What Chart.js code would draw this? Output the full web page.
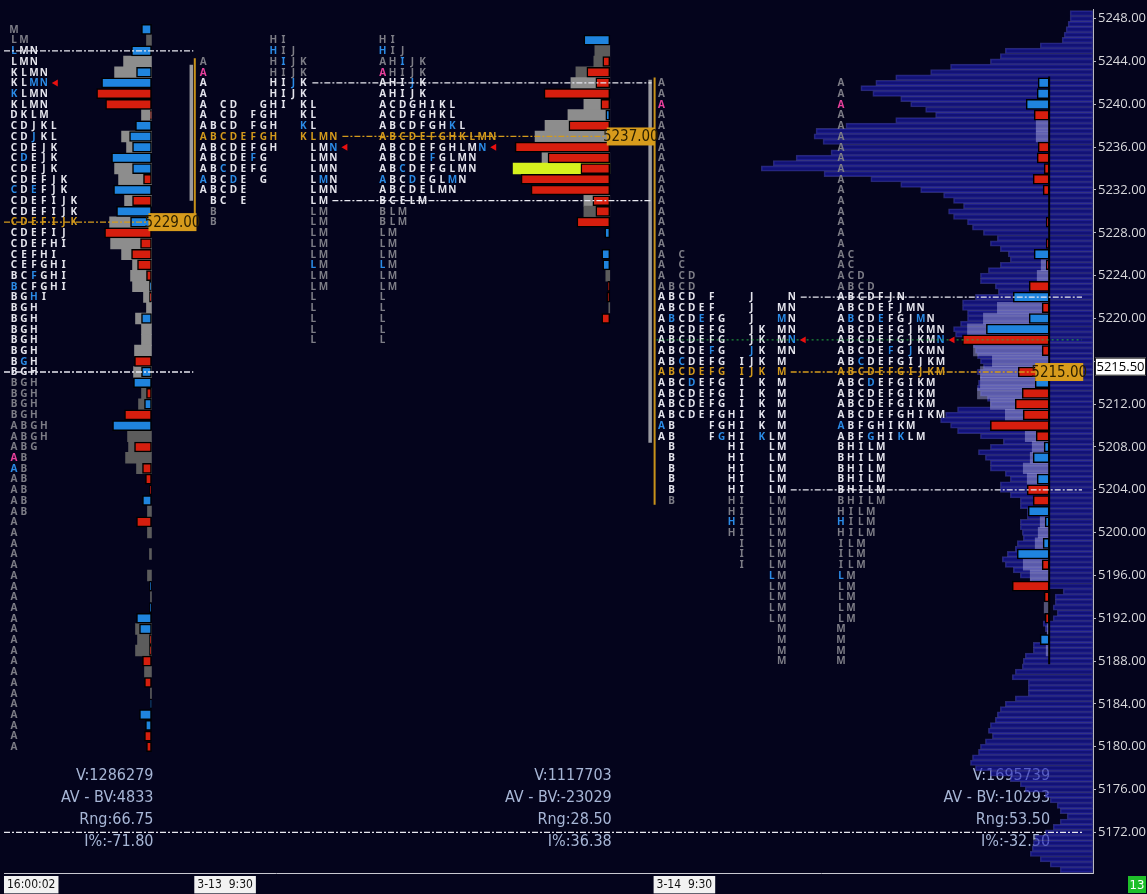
<!DOCTYPE html>
<html>
<head>
<meta charset="utf-8">
<script src="https://cdn.jsdelivr.net/npm/chart.js@4.4.1/dist/chart.umd.min.js"></script>
<style>
  html, body { margin: 0; padding: 0; background: #04041c; }
  #wrap { width: 1147px; height: 894px; }
</style>
</head>
<body>
<div id="wrap"><canvas id="mp" width="1147" height="894"></canvas></div>
<script>
// ---------------- data ----------------
// session 1 (16:00:02), one row per point, from the top price down
const s1Top = 5247;
const s1Tpo = ['M','LM','LMN','LMN','KLMN','KLMN','KLMN','KLMN','DKLM','CDJKL',
  'CDJKL','CDEJK','CDEJK','CDEJK','CDEFJK','CDEFJK','CDEFIJK','CDEFIJK','CDEFIJK','CDEFIJ',
  'CDEFHI','CEFHI','CEFGHI','BCFGHI','BCFGHI','BGHI','BGH','BGH','BGH','BGH',
  'BGH','BGH','BGH','BGH','BGH','BGH','BGH','ABGH','ABGH','ABG',
  'AB','AB','AB','AB','AB','AB','A','A','A','A',
  'A','A','A','A','A','A','A','A','A','A',
  'A','A','A','A','A','A','A','A'];
const s1Vol = [0,5,0,28,37,0,0,0,10,0, 30,25,0,37,33,0,27,0,42,0, 41,30,19,21,19,8,5,16,10,10,
  17,0,18,0,10,13,0,0,24,23, 26,15,0,0,0,4,0,4,0,2, 0,4,0,1,0,0,16,14,16,0, 7,0,1,0,0,0,0,0];
const s1Delta = [10,0,20,0,15,50,-55,-46,-1,16, 22,19,40,19,-8,38,-19,35,21,-47, -11,-20,-14,-5,2,-2,0,10,0,0,
  0,-17,10,18,-5,7,-27,39,0,-17, 0,-9,-6,-2,9,0,-15,0,0,0, 0,0,2,0,2,15,12,-2,-2,-9, 0,-7,0,1,12,6,-7,-5];
const s1Blue = [['L',5245],['M',5242],['N',5242],['K',5241],['J',5237],['D',5235],['C',5232],['E',5232],
  ['F',5224],['B',5223],['H',5222],['G',5216],['A',5206]];
const s1Pink = [['A',5207]];

// session 2 (3-13 9:30)
const s2Top = 5246;
const s2Tpo = ['HI','HIJ','AHIJK','AHIJK','AHIJK','AHIJK','ACDGHIKL','ACDFGHKL','ABCDFGHKL','ABCDEFGHKLMN',
  'ABCDEFGHLMN','ABCDEFGLMN','ABCDEFGLMN','ABCDEGLMN','ABCDELMN','BCELM','BLM','BLM','LM','LM',
  'LM','LM','LM','LM','L','L','L','L','L'];
const s2Vol = [0,15,16,34,39,0,26,42,65,75, 0,68,97,0,0,26,26,0,0,0, 0,0,4,0,0,1,0,0,0];
const s2Delta = [26,0,-7,-23,-14,-66,-9,4,-41,0, -95,-62,-29,-89,-79,-17,-14,-33,5,0, 8,7,0,-2,-3,0,-8,0,0];
const s2Blue = [['H',5245],['I',5244],['J',5242],['K',5238],['N',5236],['F',5235],['C',5234],
  ['A',5233],['D',5233],['M',5233],['L',5225]];
const s2Pink = [['A',5243]];
const s2Highlight = [5234];

// session 3 (3-14 9:30)
const s3Top = 5242;
const s3Tpo = ['A','A','A','A','A','A','A','A','A','A',
  'A','A','A','A','A','A','AC','AC','ACD','ABCD',
  'ABCDFJN','ABCDEFJMN','ABCDEFGJMN','ABCDEFGJKMN','ABCDEFGJKMN','ABCDEFGJKMN','ABCDEFGIJKM','ABCDEFGIJKM','ABCDEFGIKM','ABCDEFGIKM',
  'ABCDEFGIKM','ABCDEFGHIKM','ABFGHIKM','ABFGHIKLM','BHILM','BHILM','BHILM','BHILM','BHILM','BHILM',
  'HILM','HILM','HILM','ILM','ILM','ILM','LM','LM','LM','LM',
  'LM','M','M','M','M'];
const s3Vol = [0,0,0,0,13,13,0,0,0,0, 0,0,0,0,0,0,0,8,12,0, 0,52,66,82,0,76,57,69,69,72,
  59,44,0,24,17,19,26,22,0,0, 0,9,11,14,0,26,19,0,0,5, 0,2,0,3,0];
const s3Delta = [11,12,23,-15,0,0,-11,-12,-5,-16, -6,0,0,-3,0,-3,15,-3,0,-20, 36,-7,20,63,-87,-7,0,-31,14,-27,
  -34,-26,-59,-13,5,16,0,12,-22,-16, 21,4,0,6,32,-7,0,-37,-5,0, -4,0,9,0,0];
const s3Blue = [['B',5220],['E',5220],['M',5220],['N',5218],['F',5217],['J',5217],['C',5216],['D',5214],
  ['A',5210],['G',5209],['K',5209],['H',5201],['L',5196]];
const s3Pink = [['A',5240]];

// per-session summary
const sessionLabels = ['16:00:02', '3-13  9:30', '3-14  9:30'];
const sessionVah = [5245, 5242, 5222];
const sessionVal = [5215, 5231, 5204];
const sessionPoc = [5229, 5237, 5215];
const sessionClose = [5242, 5236, 5218];
const sessionVolume = [1286279, 1117703, 1695739];
const sessionAvBv = [4833, -23029, -10293];
const sessionRange = [66.75, 28.50, 53.50];
const sessionIPct = [-71.80, 36.38, -32.50];

// markers left of the next session: [top, bottom] prices
const rangeBarGray = [[5243.7, 5231.0], [5242.3, 5208.4]];
const rangeBarOrange = [[5244.3, 5228.6], [5242.5, 5202.6]];
const levelLines = [5172];
const lastPrice = 5215.50;
const barTimer = '13';

// composite volume profile, half-point rows from 5248.5 down to 5168.5
const compTop = 5248.5;
const compVol = [
  23,23,25,27,29,31,53,88,93,103,
  143,163,198,218,233,221,193,183,168,158,
  198,248,278,280,271,253,263,298,321,333,
  270,223,193,173,150,140,130,145,140,126,
  121,110,96,103,93,85,83,93,105,113,
  113,98,95,118,131,131,126,126,133,140,
  138,126,120,118,116,113,110,116,113,115,
  116,113,106,103,136,148,153,143,136,113,
  90,103,115,108,103,103,88,83,93,93,
  83,73,73,66,66,73,73,71,70,76,
  78,86,91,88,80,73,63,60,30,38,
  38,40,36,40,50,48,46,48,60,60,
  68,70,71,78,81,65,65,65,78,88,
  93,96,98,103,105,101,108,113,115,121,
  123,118,103,83,73,68,48,43,36,33,
  26,33,40,48,58,60,61,63,53,43,
  33];

// ---------------- layout & style ----------------
const layout = {
  packedX: [10, 380, 840],
  splitX: [null, 200, 660],
  step: 10,
  splitStep: 10.05,
  barAnchor: [148, 608, 1049],
  statsRight: [150, 610, 1050],
  pocLabelX: [145, 605, 1035],
  sessionEnd: [190, 650, 1082],
  tickStart: [3, 194, 655],
  rangeBarX: [[188, 191.5], [648.5, 653]],
  plotRight: 1093
};
const C = {
  bg: '#04041c', white: '#e4e4ec', gray: '#7d7d86', blue: '#2b8be6', pink: '#e8409c',
  orange: '#d39a1c', red: '#d61e0e', buy: '#1f84de', grayIn: '#8d8d8d', grayOut: '#5c5c5c',
  lav: 'rgba(190,190,240,0.42)', yel: '#d6f21e', stats: '#a7b6d6'
};
const NARROW = '"Liberation Sans Narrow", "DejaVu Sans Condensed", sans-serif';

const sessions = [
  { top: s1Top, tpo: s1Tpo, vol: s1Vol, delta: s1Delta, blue: s1Blue, pink: s1Pink, hi: [] },
  { top: s2Top, tpo: s2Tpo, vol: s2Vol, delta: s2Delta, blue: s2Blue, pink: s2Pink, hi: s2Highlight },
  { top: s3Top, tpo: s3Tpo, vol: s3Vol, delta: s3Delta, blue: s3Blue, pink: s3Pink, hi: [] }
];

function inVa(k, p) { return p <= sessionVah[k] && p >= sessionVal[k]; }
function has(list, c, p) { return list.some(e => e[0] === c && e[1] === p); }
function letterColor(k, p, c) {
  const s = sessions[k];
  if (p === sessionPoc[k]) return C.orange;
  if (has(s.pink, c, p)) return C.pink;
  if (has(s.blue, c, p)) return C.blue;
  return inVa(k, p) ? C.white : C.gray;
}
function rowOf(k, p) { return sessions[k].tpo[sessions[k].top - p]; }
function splitEnd(k, p) {
  const row = rowOf(k, p);
  return layout.splitX[k] + (row.charCodeAt(row.length - 1) - 65) * layout.splitStep;
}

// ---------------- datasets ----------------
const datasets = [];
datasets.push({
  type: 'bar', order: 100, grouped: false, barThickness: 5.4,
  data: compVol.map((v, i) => ({ y: compTop - i * 0.5, x: [layout.plotRight - v, layout.plotRight] })),
  backgroundColor: 'rgba(30,30,185,0.58)', borderColor: 'rgba(75,75,175,0.55)',
  borderWidth: 1, borderSkipped: false
});

sessions.forEach((s, k) => {
  const a = layout.barAnchor[k];
  const grayData = [], deltaData = [];
  s.tpo.forEach((t, i) => {
    const p = s.top - i;
    if (s.vol[i] > 0) {
      const col = s.hi.includes(p) ? C.yel : (k === 2 ? C.lav : (inVa(k, p) ? C.grayIn : C.grayOut));
      grayData.push({ y: p, x: [a - s.vol[i], a], col });
    }
    if (s.delta[i] !== 0) deltaData.push({ y: p, x: [a - Math.abs(s.delta[i]), a], d: s.delta[i] });
  });
  datasets.push({ type: 'bar', order: 60, grouped: false, barThickness: 10.8, data: grayData,
    backgroundColor: c => c.raw ? c.raw.col : C.grayIn, borderWidth: 0 });
  datasets.push({ type: 'bar', order: 50, grouped: false, barThickness: 10, data: deltaData,
    backgroundColor: c => (c.raw && c.raw.d > 0) ? C.buy : C.red,
    borderColor: '#000', borderWidth: 1.5, borderSkipped: false });
});

function seg(x0, x1, y0, y1, color, width, dash) {
  return { type: 'line', order: 20, data: [{ x: x0, y: y0 }, { x: x1, y: y1 }],
    borderColor: color, borderWidth: width, borderDash: dash || [], pointRadius: 0, fill: false };
}
const DASHDOT = [6, 2, 2, 2];
sessions.forEach((s, k) => {
  const startOf = p => (layout.splitX[k] == null ? 0 : splitEnd(k, p) + 9);
  datasets.push(seg(startOf(sessionVah[k]), layout.sessionEnd[k], sessionVah[k], sessionVah[k], '#e8e8f0', 1.3, DASHDOT));
  datasets.push(seg(startOf(sessionVal[k]), layout.sessionEnd[k], sessionVal[k], sessionVal[k], '#e8e8f0', 1.3, DASHDOT));
  datasets.push(seg(startOf(sessionPoc[k]), layout.pocLabelX[k], sessionPoc[k], sessionPoc[k], C.orange, 1.3, DASHDOT));
});
levelLines.forEach(p => datasets.push(seg(0, 1082, p, p, '#e8e8f0', 1.3, DASHDOT)));
// session 3 close line
datasets.push(seg(layout.splitX[2] - 5, 1082, sessionClose[2], sessionClose[2], '#23b040', 1, [2, 3]));
// range markers before the next session
rangeBarGray.forEach((r, i) => datasets.push(seg(layout.rangeBarX[i][0], layout.rangeBarX[i][0], r[0], r[1], '#9a9aa0', 3.5)));
rangeBarOrange.forEach((r, i) => datasets.push(seg(layout.rangeBarX[i][1], layout.rangeBarX[i][1], r[0], r[1], '#c8921a', 2)));
// session 3 bar baseline
datasets.push(seg(layout.barAnchor[2], layout.barAnchor[2], s3Top + 0.6, s3Top - s3Tpo.length + 0.7, '#000000', 2));

// close arrows (packed and split)
const arrows = [];
sessions.forEach((s, k) => {
  const p = sessionClose[k];
  arrows.push({ x: layout.packedX[k] + rowOf(k, p).length * layout.step + 2, y: p });
  if (layout.splitX[k] != null) arrows.push({ x: splitEnd(k, p) + 12, y: p });
});
datasets.push({ type: 'scatter', order: 10, data: arrows, pointStyle: 'triangle', rotation: -90,
  pointRadius: 4, backgroundColor: '#e81010', borderWidth: 0 });

// ---------------- drawing helpers ----------------
function drawLetters(chart) {
  const { ctx, scales: { x, y } } = chart;
  ctx.save();
  ctx.font = 'bold 10px "Noto Sans", "DejaVu Sans", sans-serif';
  ctx.textAlign = 'center';
  ctx.textBaseline = 'middle';
  sessions.forEach((s, k) => {
    s.tpo.forEach((row, i) => {
      const p = s.top - i;
      const py = y.getPixelForValue(p) + 0.5;
      [...row].forEach((c, j) => {
        ctx.fillStyle = letterColor(k, p, c);
        ctx.fillText(c, x.getPixelForValue(layout.packedX[k] + j * layout.step), py);
        if (layout.splitX[k] != null) {
          ctx.fillText(c, x.getPixelForValue(layout.splitX[k] + (c.charCodeAt(0) - 65) * layout.splitStep), py);
        }
      });
    });
  });
  ctx.restore();
}

function box(ctx, x, y, w, h, fill, text, color, font, stroke) {
  ctx.fillStyle = fill;
  ctx.fillRect(x, y, w, h);
  if (stroke) { ctx.strokeStyle = stroke; ctx.lineWidth = 1; ctx.strokeRect(x + 0.5, y + 0.5, w - 1, h - 1); }
  ctx.fillStyle = color;
  ctx.font = font;
  ctx.textAlign = 'center';
  ctx.textBaseline = 'middle';
  ctx.fillText(text, x + w / 2, y + h / 2 + 1);
}

const mpPlugin = {
  id: 'marketProfile',
  beforeDraw(chart) {
    const { ctx, width, height } = chart;
    ctx.save();
    ctx.fillStyle = C.bg;
    ctx.fillRect(0, 0, width, height);
    ctx.restore();
  },
  beforeDatasetsDraw(chart) {
    const { ctx, chartArea, scales: { x } } = chart;
    ctx.save();
    ctx.font = '16px ' + NARROW;
    ctx.fillStyle = C.stats;
    ctx.textAlign = 'right';
    ctx.textBaseline = 'middle';
    sessions.forEach((s, k) => {
      const rx = x.getPixelForValue(layout.statsRight[k]);
      const lines = ['V:' + sessionVolume[k], 'AV - BV:' + sessionAvBv[k],
        'Rng:' + sessionRange[k].toFixed(2), 'I%:' + sessionIPct[k].toFixed(2)];
      lines.forEach((t, i) => ctx.fillText(t, rx, chartArea.bottom - 97 + i * 22));
    });
    ctx.restore();
  },
  afterDatasetDraw(chart, args) {
    if (args.index === 0) drawLetters(chart);
  },
  afterDatasetsDraw(chart) {
    const { ctx, chartArea, scales: { x, y } } = chart;
    ctx.save();
    sessionPoc.forEach((p, k) => {
      const px = x.getPixelForValue(layout.pocLabelX[k]);
      box(ctx, px, y.getPixelForValue(p) - 9, 48, 18, '#d79b1c', p.toFixed(2), '#2a1f00', '15px ' + NARROW);
    });
    const ly = y.getPixelForValue(lastPrice);
    box(ctx, chartArea.right + 2, ly - 9, 51, 18, '#ffffff', lastPrice.toFixed(2), '#000000', '13px "Open Sans", sans-serif', '#202020');
    box(ctx, chart.width - 19, chart.height - 18, 18, 17, '#1fbf2a', barTimer, '#ffffff', '13px ' + NARROW);
    ctx.restore();
  }
};

// ---------------- chart ----------------
new Chart(document.getElementById('mp'), {
  type: 'bar',
  data: { datasets },
  options: {
    responsive: false,
    animation: false,
    devicePixelRatio: 1,
    indexAxis: 'y',
    events: [],
    layout: { padding: 0 },
    plugins: { legend: { display: false }, tooltip: { enabled: false } },
    scales: {
      x: {
        type: 'linear', position: 'bottom', min: 0, max: layout.plotRight, offset: false,
        afterBuildTicks: a => { a.ticks = layout.tickStart.map(v => ({ value: v })); },
        afterFit: a => { a.height = 21; },
        grid: { display: false, drawTicks: false },
        border: { display: true, color: '#c8c8d0', width: 1 },
        ticks: {
          autoSkip: false, maxRotation: 0, align: 'start', padding: 5, color: '#111111',
          font: { size: 12, family: NARROW },
          showLabelBackdrop: true, backdropColor: '#f2f2f2',
          backdropPadding: { top: 2, bottom: 1, left: 3, right: 3 },
          callback: (v, i) => sessionLabels[i]
        }
      },
      y: {
        type: 'linear', position: 'right', min: 5168.21, max: 5248.83, offset: false,
        afterFit: a => { a.width = 54; },
        grid: { display: true, offset: false, drawOnChartArea: false, drawTicks: true, tickLength: 3, color: '#b8b8c0' },
        border: { display: true, color: '#b8b8c0' },
        ticks: {
          stepSize: 4, includeBounds: false, padding: 2, color: '#d8d8dc',
          font: { size: 13, family: '"Open Sans", sans-serif' },
          // the last-price box sits over the nearest tick label
          callback: v => (Math.abs(v - lastPrice) < 1 ? '' : Number(v).toFixed(2))
        }
      }
    }
  },
  plugins: [mpPlugin]
});
</script>
</body>
</html>
